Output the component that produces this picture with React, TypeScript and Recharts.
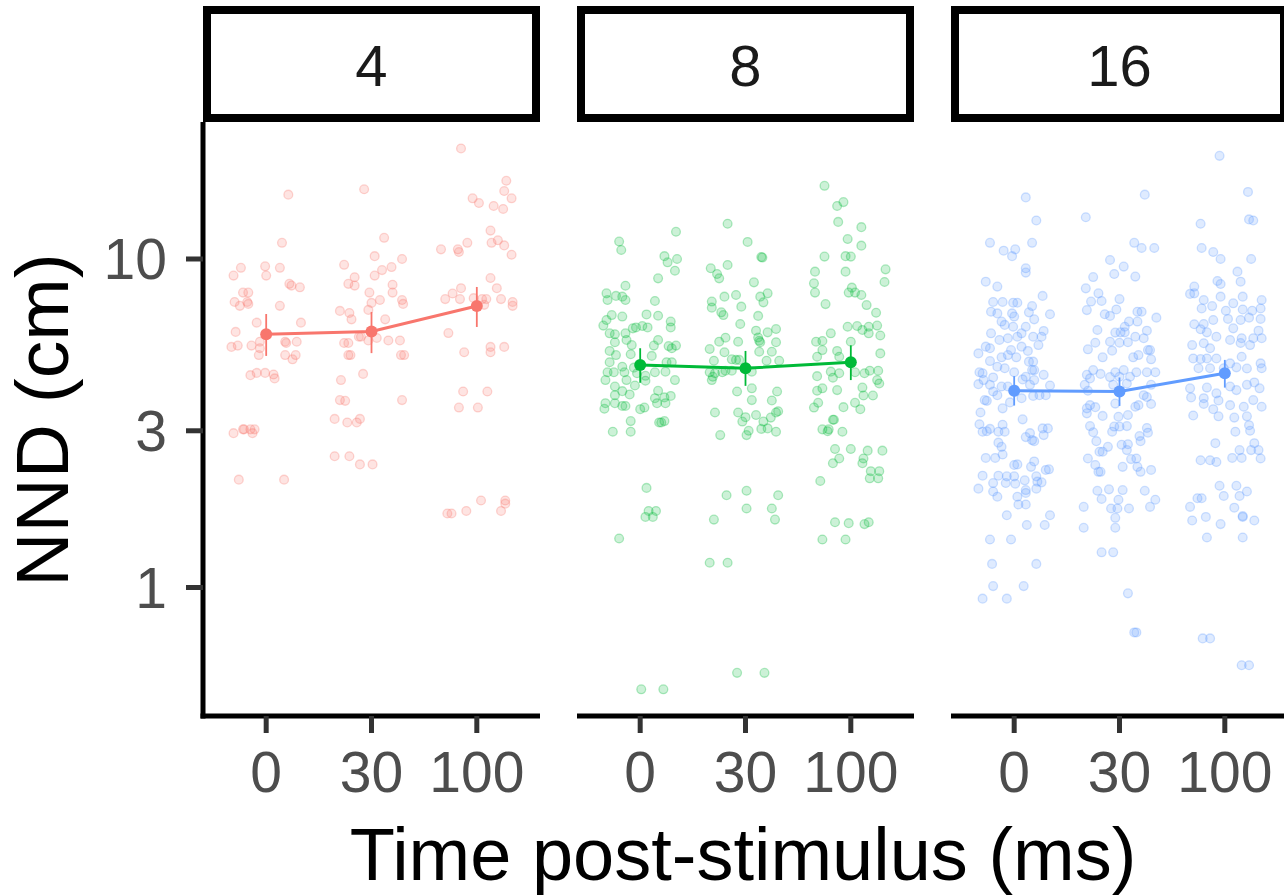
import React from "react";
import { ScatterChart, Scatter, XAxis, YAxis, ErrorBar } from "recharts";

const timeLabels = ["0", "30", "100"];
const groupSizes = ["4", "8", "16"];
const colors = ["#F8766D", "#00BA38", "#619CFF"];
const yTicks = [1, 3, 10];

// individual NND values, [jitter offset, NND (cm)]
const n4_t0 = [[0.21,15.7],[0.15,11.2],[-0.24,9.4],[-0.31,8.9],[-0.01,9.5],[0.0,8.9],[0.13,9.4],[0.22,8.4],[0.24,8.3],[0.32,8.2],[-0.22,7.9],[-0.17,7.9],[-0.18,7.4],[-0.3,7.4],[-0.25,7.2],[-0.17,7.3],[0.13,7.2],[-0.09,6.4],[0.33,6.4],[-0.29,6.0],[-0.33,5.4],[-0.27,5.45],[-0.14,5.45],[-0.06,5.6],[-0.06,5.35],[-0.07,5.1],[0.18,5.6],[0.19,5.55],[0.29,5.6],[0.18,5.1],[0.28,5.1],[0.25,4.95],[-0.15,4.43],[-0.09,4.5],[-0.01,4.5],[0.07,4.45],[0.08,4.33],[-0.31,2.95],[-0.22,3.03],[-0.21,3.03],[-0.15,3.03],[-0.11,3.03],[-0.13,2.95],[-0.26,2.13],[0.17,2.13]];
const n4_t30 = [[-0.07,16.3],[0.12,11.6],[0.03,10.2],[-0.26,9.6],[-0.16,8.8],[-0.22,8.4],[-0.16,8.3],[0.03,8.9],[0.1,9.25],[0.19,9.45],[0.29,10.0],[0.2,8.35],[0.2,7.9],[-0.02,7.9],[0.0,7.35],[0.08,7.5],[0.29,7.5],[0.3,7.3],[-0.03,7.0],[-0.3,6.95],[-0.21,6.85],[-0.19,6.55],[0.13,6.55],[-0.12,5.8],[-0.1,5.8],[0.05,5.75],[-0.03,5.65],[-0.26,5.55],[-0.22,5.55],[0.16,5.65],[0.27,5.65],[-0.22,5.1],[-0.2,5.1],[0.28,5.1],[0.31,5.1],[-0.08,4.47],[-0.29,4.28],[-0.3,3.72],[-0.25,3.7],[0.29,3.72],[-0.35,3.26],[-0.23,3.18],[-0.14,3.18],[-0.11,3.26],[-0.35,2.51],[-0.21,2.51],[-0.11,2.37],[0.01,2.37]];
const n4_t100 = [[-0.15,21.7],[0.28,17.3],[0.26,16.1],[0.33,15.3],[-0.04,15.3],[0.02,14.8],[0.16,14.5],[0.25,14.2],[0.13,12.2],[0.14,11.2],[0.2,11.4],[0.26,11.0],[-0.34,10.7],[-0.18,10.7],[-0.17,10.5],[-0.09,11.2],[0.33,10.3],[0.13,8.75],[0.19,8.15],[-0.23,7.85],[-0.15,8.15],[-0.3,7.55],[-0.16,7.55],[-0.03,7.6],[0.05,7.55],[0.09,7.55],[0.07,7.25],[0.23,7.55],[0.34,7.4],[0.34,7.2],[-0.27,5.95],[-0.12,5.2],[0.13,5.4],[0.13,5.2],[0.26,5.4],[-0.13,3.95],[0.1,3.95],[-0.17,3.53],[0.01,3.53],[0.04,1.84],[0.27,1.84],[0.27,1.8],[0.23,1.71],[-0.1,1.71],[-0.28,1.68],[-0.24,1.68]];

const n8_t0 = [[-0.2,11.3],[-0.18,10.65],[0.34,12.1],[0.23,10.2],[0.26,9.77],[0.35,10.0],[0.33,9.21],[0.17,8.73],[-0.14,8.29],[-0.32,7.86],[-0.31,7.5],[-0.23,7.72],[-0.17,7.68],[-0.14,7.5],[0.14,7.45],[-0.27,6.75],[-0.17,6.68],[-0.32,6.52],[-0.35,6.27],[0.06,6.78],[0.17,6.72],[0.29,6.45],[0.29,6.19],[-0.07,6.15],[-0.04,6.19],[0.02,6.25],[0.07,6.19],[-0.29,5.94],[-0.24,5.9],[-0.14,5.94],[-0.13,5.67],[-0.24,5.58],[0.17,5.67],[-0.08,5.47],[0.13,5.45],[0.27,5.43],[0.3,5.35],[0.34,5.45],[-0.29,5.25],[-0.09,5.13],[-0.23,5.1],[0.11,5.07],[-0.17,4.7],[-0.29,4.85],[-0.31,4.52],[-0.25,4.52],[-0.15,4.52],[-0.06,4.67],[-0.03,4.49],[0.05,4.41],[0.14,4.52],[0.24,4.54],[0.25,4.85],[0.3,4.85],[0.33,4.28],[-0.33,4.28],[-0.13,4.28],[0.05,4.26],[-0.24,4.09],[-0.05,4.12],[-0.17,3.96],[-0.24,3.85],[-0.1,3.87],[0.17,3.97],[0.14,3.77],[0.23,3.79],[0.29,3.83],[-0.33,3.64],[-0.34,3.5],[-0.24,3.64],[-0.17,3.57],[-0.14,3.57],[0.0,3.49],[0.04,3.53],[0.16,3.64],[0.24,3.64],[-0.09,3.21],[0.18,3.18],[0.2,3.18],[0.23,3.21],[-0.26,2.98],[-0.09,2.98],[0.06,2.01],[0.08,1.71],[0.15,1.71],[0.05,1.64],[0.12,1.64],[-0.2,1.41],[0.01,0.49],[0.22,0.49]];
const n8_t30 = [[-0.17,12.8],[0.02,11.27],[0.15,10.14],[0.16,10.1],[-0.33,9.37],[-0.17,9.59],[-0.27,9.0],[-0.25,8.73],[0.08,8.49],[0.21,7.86],[0.14,7.68],[0.17,7.38],[-0.2,7.68],[-0.09,7.77],[-0.32,7.42],[-0.32,7.11],[-0.04,7.16],[-0.23,6.88],[-0.21,6.75],[0.12,6.71],[-0.05,6.34],[0.1,6.05],[0.21,5.98],[0.29,6.12],[0.12,5.77],[0.13,5.64],[0.14,5.58],[0.29,5.58],[-0.19,5.76],[-0.25,5.6],[-0.07,5.6],[-0.34,5.32],[-0.2,5.2],[0.13,5.22],[0.25,5.22],[-0.3,4.9],[-0.13,4.95],[-0.09,4.93],[-0.06,4.93],[0.2,4.9],[0.32,4.9],[-0.34,4.52],[-0.31,4.38],[-0.29,4.49],[-0.22,4.52],[-0.19,4.57],[-0.13,4.57],[0.06,4.54],[-0.32,4.28],[-0.08,3.95],[0.06,4.04],[0.3,3.95],[0.06,3.72],[0.25,3.71],[-0.29,3.41],[-0.07,3.41],[0.0,3.3],[-0.03,3.2],[0.1,3.35],[0.24,3.29],[0.29,3.41],[0.31,3.44],[-0.24,2.91],[0.03,3.0],[0.01,2.91],[0.15,3.04],[0.17,3.2],[0.21,3.05],[0.29,2.98],[-0.18,1.91],[0.01,1.97],[0.31,1.91],[0.01,1.74],[0.25,1.74],[-0.3,1.61],[0.28,1.61],[-0.34,1.19],[-0.17,1.19],[-0.08,0.55],[0.18,0.55]];
const n8_t100 = [[-0.25,16.7],[-0.13,14.5],[-0.07,14.9],[-0.12,12.97],[0.1,12.5],[-0.03,11.5],[0.1,10.98],[-0.25,10.17],[-0.05,10.2],[0.0,10.17],[-0.05,9.15],[-0.34,9.15],[-0.35,8.43],[-0.34,7.9],[0.33,9.3],[0.32,8.51],[0.01,8.18],[-0.02,7.9],[0.04,7.9],[0.1,7.77],[-0.24,7.29],[0.15,7.24],[0.24,6.86],[-0.19,5.94],[-0.03,6.22],[0.06,6.25],[0.11,6.08],[0.17,6.22],[0.25,6.27],[0.17,5.94],[0.28,5.85],[-0.33,5.6],[-0.27,5.63],[-0.27,5.28],[-0.32,5.04],[-0.13,5.25],[-0.11,5.04],[0.0,5.6],[0.28,5.16],[-0.19,4.54],[-0.17,4.35],[-0.11,4.49],[-0.32,4.4],[0.04,4.52],[0.13,4.49],[0.18,4.57],[0.26,4.57],[0.25,4.28],[0.27,4.18],[-0.27,4.04],[-0.32,3.97],[-0.13,3.99],[0.11,4.06],[0.12,3.84],[0.21,3.84],[-0.35,3.53],[-0.31,3.65],[-0.07,3.54],[0.04,3.65],[0.09,3.49],[-0.17,3.24],[-0.16,3.24],[-0.27,3.03],[-0.22,2.99],[-0.21,3.03],[-0.08,2.98],[-0.15,2.64],[0.0,2.64],[0.16,2.61],[0.3,2.61],[-0.11,2.47],[-0.17,2.39],[0.12,2.47],[0.11,2.39],[0.19,2.26],[0.27,2.26],[0.18,2.15],[0.26,2.15],[-0.29,2.11],[-0.15,1.58],[-0.02,1.57],[0.13,1.56],[0.17,1.58],[-0.27,1.4],[-0.05,1.4]];

const n16_t0 = [[0.11,15.4],[0.21,13.1],[0.17,11.2],[-0.23,11.2],[-0.1,10.6],[0.01,10.7],[-0.02,10.2],[0.11,9.37],[0.11,9.09],[-0.27,8.53],[-0.16,8.24],[0.27,7.72],[-0.2,7.4],[-0.11,7.4],[-0.01,7.36],[0.03,7.36],[0.17,7.19],[0.14,6.88],[-0.22,6.91],[-0.16,6.83],[-0.02,6.83],[0.0,6.68],[0.34,6.79],[0.19,6.55],[-0.12,6.45],[-0.09,6.3],[-0.01,6.22],[0.11,6.22],[-0.22,5.94],[0.07,5.94],[0.28,6.04],[0.26,5.8],[-0.14,5.67],[-0.06,5.74],[0.03,5.8],[0.18,5.8],[-0.03,5.28],[0.23,5.47],[-0.27,5.41],[-0.23,5.35],[0.07,5.41],[0.13,5.25],[-0.34,5.16],[-0.06,5.1],[0.02,5.02],[-0.12,5.02],[0.14,4.87],[0.18,4.87],[-0.23,4.89],[-0.16,4.7],[-0.09,4.65],[0.17,4.59],[0.19,4.59],[0.0,4.52],[-0.33,4.52],[-0.3,4.49],[-0.29,4.28],[-0.2,4.36],[-0.34,4.16],[0.28,4.44],[0.11,4.38],[0.08,4.3],[0.19,4.28],[-0.23,4.14],[-0.12,4.09],[-0.06,4.09],[0.15,4.14],[0.34,4.12],[-0.2,3.95],[-0.16,3.85],[-0.28,3.72],[-0.26,3.7],[-0.04,3.66],[0.07,3.77],[0.18,3.83],[0.24,3.85],[0.3,3.85],[-0.11,3.51],[-0.32,3.41],[0.08,3.25],[-0.33,3.14],[-0.3,2.98],[-0.26,2.99],[-0.23,3.04],[-0.15,2.98],[-0.11,3.13],[-0.09,2.98],[0.15,2.95],[0.17,2.81],[0.27,3.05],[0.32,3.05],[0.28,2.91],[0.11,2.87],[0.19,2.79],[-0.15,2.76],[-0.12,2.68],[-0.11,2.54],[-0.27,2.48],[-0.18,2.48],[0.0,2.36],[0.03,2.37],[0.19,2.42],[0.16,2.33],[0.3,2.28],[0.33,2.29],[-0.3,2.19],[-0.15,2.19],[-0.07,2.18],[0.0,2.18],[-0.2,2.08],[-0.08,2.08],[0.01,2.07],[0.1,2.12],[0.21,2.18],[0.22,2.1],[0.26,2.09],[-0.34,2.0],[-0.2,1.96],[-0.16,1.89],[0.11,1.98],[0.11,1.94],[0.03,1.89],[0.21,2.0],[0.04,1.79],[0.11,1.79],[-0.07,1.66],[0.34,1.66],[0.12,1.55],[0.29,1.55],[-0.23,1.4],[-0.03,1.4],[-0.21,1.18],[0.21,1.18],[-0.2,1.01],[0.09,1.01],[-0.3,0.925],[-0.07,0.925]];
const n16_t30 = [[0.24,15.7],[-0.32,13.4],[0.14,11.2],[0.21,10.8],[0.33,10.8],[-0.09,9.93],[0.04,9.48],[-0.05,9.0],[0.15,8.84],[-0.25,8.81],[-0.32,8.14],[-0.2,7.86],[-0.17,7.45],[-0.27,7.42],[0.0,7.55],[-0.31,6.99],[-0.03,7.02],[-0.14,6.79],[0.17,6.91],[0.21,6.91],[-0.09,6.71],[0.35,6.63],[0.09,6.45],[0.17,6.45],[0.05,6.22],[-0.04,5.97],[0.01,5.98],[0.05,5.98],[-0.21,6.08],[-0.09,5.6],[0.0,5.56],[0.08,5.58],[0.15,5.8],[0.26,6.05],[0.23,5.74],[-0.3,5.31],[-0.23,5.56],[-0.16,5.02],[-0.07,5.26],[0.27,5.28],[0.3,4.95],[0.13,5.02],[0.18,5.1],[0.29,5.28],[-0.31,4.44],[-0.25,4.59],[-0.28,4.33],[-0.18,4.47],[-0.09,4.37],[-0.04,4.52],[0.04,4.59],[0.16,4.52],[0.26,4.52],[0.34,4.52],[0.1,4.38],[-0.33,4.14],[-0.3,3.97],[-0.06,4.14],[0.0,4.38],[0.07,4.18],[0.3,4.14],[0.23,3.85],[-0.28,3.59],[-0.31,3.51],[-0.23,3.54],[-0.16,3.33],[-0.04,3.63],[-0.01,3.31],[0.08,3.35],[0.15,3.55],[0.18,3.59],[0.26,3.8],[0.3,3.62],[-0.31,3.39],[-0.05,3.09],[0.0,3.09],[0.07,3.1],[0.26,3.06],[0.27,2.96],[-0.28,3.1],[-0.25,2.97],[-0.07,2.98],[-0.22,2.79],[-0.16,2.59],[-0.11,2.68],[-0.19,2.59],[0.02,2.72],[0.08,2.73],[0.19,2.89],[0.2,2.79],[-0.3,2.47],[-0.23,2.36],[0.07,2.62],[0.11,2.46],[0.16,2.47],[0.03,2.33],[0.17,2.33],[0.2,2.25],[0.3,2.28],[-0.2,2.25],[-0.18,2.25],[-0.21,1.97],[-0.1,1.99],[0.03,1.98],[0.24,1.97],[0.34,1.85],[-0.34,1.76],[-0.17,1.86],[-0.08,1.74],[-0.01,1.85],[-0.02,1.74],[0.09,1.74],[0.29,1.76],[-0.34,1.52],[-0.04,1.52],[-0.04,1.63],[-0.17,1.28],[-0.06,1.28],[0.08,0.96],[0.14,0.73],[0.16,0.73]];
const n16_t100 = [[-0.05,20.6],[0.22,16.0],[-0.23,12.8],[0.23,13.2],[0.27,13.1],[-0.22,10.8],[-0.11,10.5],[-0.04,10.0],[0.25,10.0],[0.12,9.15],[0.15,8.53],[-0.07,8.57],[-0.04,8.39],[-0.29,8.24],[-0.33,7.83],[-0.29,7.86],[-0.04,7.68],[0.17,7.68],[-0.2,7.5],[0.08,7.33],[0.35,7.5],[-0.22,7.07],[-0.12,7.19],[0.01,6.96],[0.17,7.02],[0.26,6.96],[0.34,7.07],[-0.29,6.33],[-0.2,6.34],[-0.11,6.52],[0.03,6.57],[0.15,6.52],[0.23,6.63],[0.34,6.57],[0.32,6.05],[-0.23,6.11],[-0.17,5.98],[-0.08,5.8],[0.08,6.15],[0.16,5.74],[0.27,5.74],[0.35,5.74],[-0.31,5.47],[-0.2,5.54],[-0.14,5.35],[0.05,5.67],[0.15,5.55],[0.24,5.47],[-0.3,4.98],[-0.23,4.96],[-0.17,4.98],[-0.08,4.98],[0.05,4.81],[0.16,5.04],[0.34,4.81],[-0.25,4.65],[-0.14,4.65],[-0.01,4.65],[0.11,4.68],[0.21,4.64],[0.35,4.65],[-0.33,4.04],[-0.17,4.06],[-0.08,3.9],[0.05,4.09],[0.11,3.99],[0.21,4.14],[0.28,4.21],[0.33,4.04],[-0.32,3.79],[-0.2,3.77],[-0.06,3.71],[0.05,3.59],[0.18,3.55],[0.27,3.72],[0.35,3.55],[-0.3,3.34],[-0.2,3.62],[-0.11,3.49],[-0.06,3.32],[0.09,3.29],[0.21,3.32],[0.23,3.12],[0.1,2.98],[0.24,3.0],[-0.09,2.75],[0.28,2.75],[-0.23,2.44],[-0.14,2.44],[-0.08,2.41],[0.07,2.48],[0.14,2.62],[0.16,2.48],[0.25,2.62],[0.32,2.62],[0.34,2.47],[-0.05,2.04],[0.11,2.04],[0.21,1.96],[-0.01,1.9],[0.14,1.9],[-0.26,1.87],[-0.22,1.87],[-0.33,1.76],[0.09,1.75],[0.17,1.65],[-0.31,1.6],[-0.18,1.64],[-0.04,1.56],[0.17,1.64],[0.28,1.6],[-0.17,1.42],[0.17,1.42],[-0.21,0.7],[-0.14,0.7],[0.16,0.58],[0.23,0.58]];

// group means with interval ends
const mean4 = [5.9, 6.02, 7.19];
const lo4 = [5.07, 5.17, 6.21];
const hi4 = [6.8, 6.9, 8.22];
const mean8 = [4.76, 4.65, 4.85];
const lo8 = [4.2, 4.11, 4.28];
const hi8 = [5.35, 5.25, 5.46];
const mean16 = [3.97, 3.95, 4.49];
const lo16 = [3.58, 3.57, 4.06];
const hi16 = [4.4, 4.36, 4.93];

const FONT = '"Liberation Sans", Arial, Helvetica, sans-serif';
const PLOT_TOP = 122;
const PLOT_H = 594;
const PANEL_W = 337;
const Y_AXIS_W = 203;
const X_AXIS_H = 100;
const panelLefts = [203, 577, 951];

const facets = [
  { label: groupSizes[0], color: colors[0], points: [n4_t0, n4_t30, n4_t100], mean: mean4, lo: lo4, hi: hi4 },
  { label: groupSizes[1], color: colors[1], points: [n8_t0, n8_t30, n8_t100], mean: mean8, lo: lo8, hi: hi8 },
  { label: groupSizes[2], color: colors[2], points: [n16_t0, n16_t30, n16_t100], mean: mean16, lo: lo16, hi: hi16 },
];

const Panel = ({ facet, index }: { facet: any; index: number }) => {
  const showY = index === 0;
  const pts = facet.points.flatMap((grp: number[][], i: number) =>
    grp.map(([dx, v]) => ({ x: i + 1 + dx, y: v }))
  );
  const means = facet.mean.map((m: number, i: number) => ({
    x: i + 1,
    y: m,
    err: [m - facet.lo[i], facet.hi[i] - m],
  }));
  const left = showY ? panelLefts[index] - Y_AXIS_W : panelLefts[index];
  const width = showY ? Y_AXIS_W + PANEL_W : PANEL_W;
  const c = facet.color;

  return (
    <div style={{ position: "absolute", left, top: PLOT_TOP }}>
      <ScatterChart width={width} height={PLOT_H + X_AXIS_H} margin={{ top: 0, right: 0, bottom: 0, left: 0 }}>
        <XAxis
          type="number"
          dataKey="x"
          domain={[0.4, 3.6]}
          ticks={[1, 2, 3]}
          interval={0}
          allowDataOverflow
          height={X_AXIS_H}
          tickFormatter={(v) => timeLabels[v - 1]}
          axisLine={{ stroke: "#000", strokeWidth: 5, strokeLinecap: "square" }}
          tickLine={{ stroke: "#333333", strokeWidth: 5 }}
          tickSize={17}
          tickMargin={19}
          tick={{ fill: "#4d4d4d", fontSize: 57, fontFamily: FONT }}
        />
        <YAxis
          type="number"
          dataKey="y"
          scale="log"
          domain={[0.4064, 26.12]}
          ticks={yTicks}
          interval={0}
          allowDataOverflow
          hide={!showY}
          width={Y_AXIS_W}
          axisLine={{ stroke: "#000", strokeWidth: 5, strokeLinecap: "square" }}
          tickLine={{ stroke: "#333333", strokeWidth: 5 }}
          tickSize={17}
          tickMargin={19}
          tick={{ fill: "#4d4d4d", fontSize: 57, fontFamily: FONT }}
        />
        <Scatter
          data={pts}
          isAnimationActive={false}
          shape={(p: any) => (
            <circle cx={p.cx} cy={p.cy} r={4.4} fill={c} fillOpacity={0.2} stroke={c} strokeOpacity={0.3} strokeWidth={1.3} />
          )}
        />
        <Scatter
          data={means}
          isAnimationActive={false}
          line={{ stroke: c, strokeWidth: 3 }}
          shape={(p: any) => <circle cx={p.cx} cy={p.cy} r={6} fill={c} />}
        >
          <ErrorBar dataKey="err" direction="y" width={0} stroke={c} strokeWidth={1.8} isAnimationActive={false} />
        </Scatter>
      </ScatterChart>
    </div>
  );
};

export default function App() {
  return (
    <div style={{ position: "absolute", left: 0, top: 0, width: 1284, height: 896, overflow: "hidden", background: "#fff" }}>
      {facets.map((f, i) => (
        <Panel key={f.label} facet={f} index={i} />
      ))}
      <svg width={1284} height={896} style={{ position: "absolute", left: 0, top: 0, pointerEvents: "none" }} fontFamily={FONT}>
        {facets.map((f, i) => (
          <g key={f.label}>
            <rect x={panelLefts[i] + 4} y={10} width={PANEL_W - 8} height={108} fill="#fff" stroke="#000" strokeWidth={8} />
            <text x={panelLefts[i] + PANEL_W / 2} y={86} textAnchor="middle" fontSize={58} fill="#1a1a1a">
              {f.label}
            </text>
          </g>
        ))}
        <text transform="translate(68,420) rotate(-90)" textAnchor="middle" fontSize={75} fill="#000">
          NND (cm)
        </text>
        <text x={743} y={880} textAnchor="middle" fontSize={74} fill="#000">
          Time post-stimulus (ms)
        </text>
      </svg>
    </div>
  );
}
